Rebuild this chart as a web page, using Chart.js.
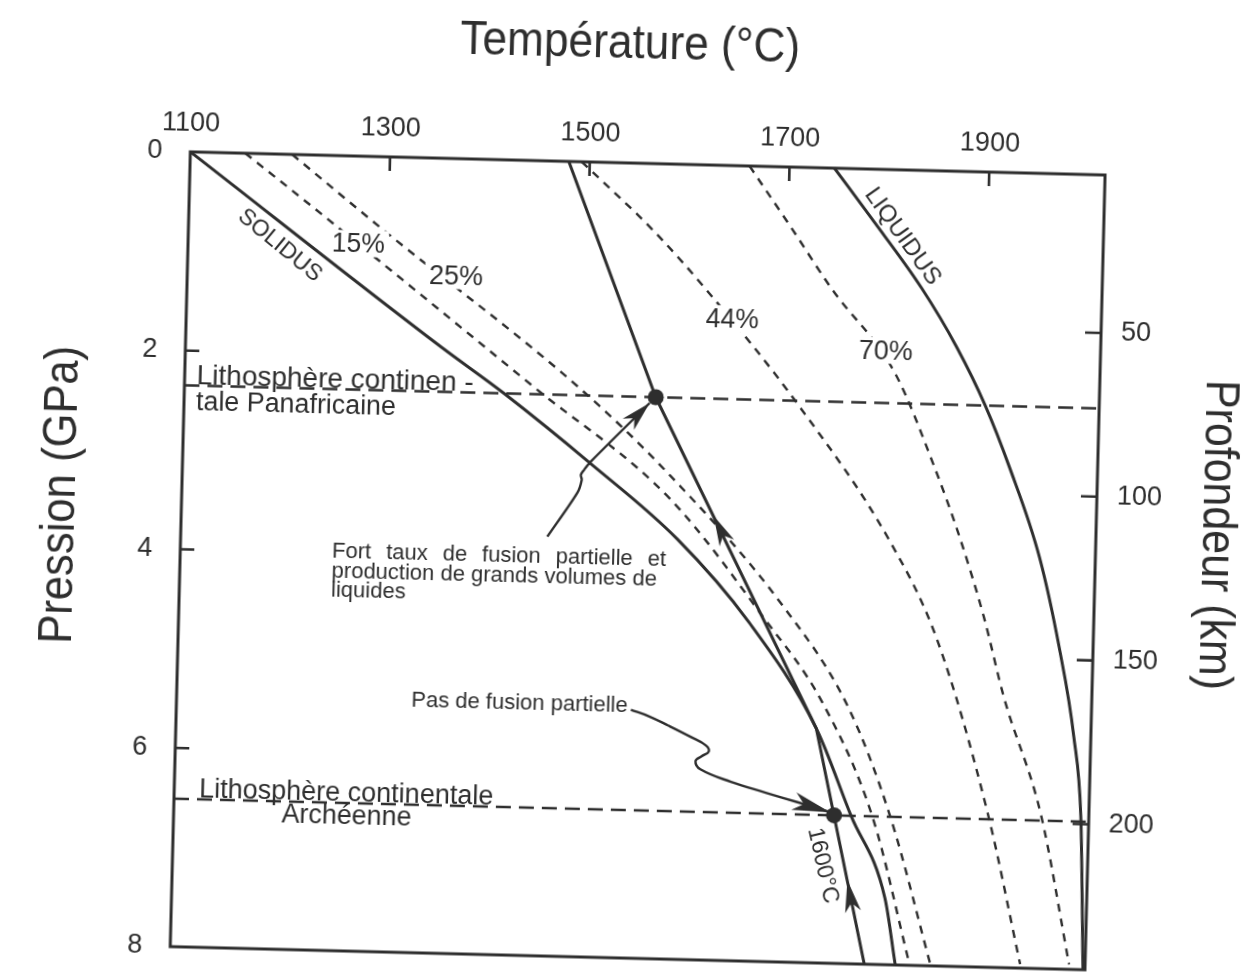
<!DOCTYPE html>
<html lang="fr">
<head>
<meta charset="utf-8">
<title>Fusion partielle du manteau</title>
<script src="https://cdn.jsdelivr.net/npm/chart.js@4.4.1/dist/chart.umd.min.js"></script>
<style>
  html, body { margin: 0; padding: 0; background: #fff; overflow: hidden; }
  #cadre { position: absolute; left: 0; top: 0; width: 1252px; height: 975px;
           transform: rotate(1.45deg); transform-origin: 626px 487.5px; }
</style>
</head>
<body>
<div id="cadre"><canvas id="diagramme" width="1252" height="975"></canvas></div>
<script>
// graduations
const ticksTemperature = [1100, 1300, 1500, 1700, 1900];
const ticksPression = [0, 2, 4, 6, 8];
const ticksProfondeur = [50, 100, 150, 200];

// courbes : température (°C) / pression (GPa)
const solidusT = [1100, 1356, 1420, 1508, 1597, 1671, 1741, 1778, 1814, 1826];
const solidusP = [0, 1.90, 2.35, 3.03, 3.77, 4.59, 5.64, 6.51, 7.33, 8.0];

const liquidusT = [1745, 1783, 1835, 1872, 1902, 1928, 1960, 1982, 1999, 2008, 2014];
const liquidusP = [0, 0.49, 1.18, 1.77, 2.35, 2.97, 3.86, 4.76, 5.66, 6.46, 8.0];

const fusion15T = [1155, 1226, 1450, 1589, 1684, 1746, 1800, 1840];
const fusion15P = [0, 0.54, 2.28, 3.37, 4.52, 5.37, 6.53, 7.98];

const fusion25T = [1202, 1293, 1497, 1585, 1704, 1773, 1818, 1861];
const fusion25P = [0, 0.72, 2.29, 3.10, 4.41, 5.43, 6.53, 7.98];

const fusion44T = [1492, 1567, 1622, 1714, 1810, 1859, 1915, 1951];
const fusion44P = [0, 0.69, 1.28, 2.38, 3.74, 4.70, 6.46, 7.96];

const fusion70T = [1660, 1704, 1745, 1811, 1853, 1880, 1906, 1928, 1968, 2000];
const fusion70P = [0, 0.62, 1.21, 2.05, 2.99, 3.69, 4.48, 5.28, 6.45, 7.95];

// adiabat 1600 °C
const adiabatT = [1479, 1572, 1741, 1795];
const adiabatP = [0, 2.35, 5.64, 8.0];

// base des lithosphères (GPa)
const lithoPanafricaine = 2.35;
const lithoArcheenne = 6.51;

// points remarquables sur l'adiabat
const pointsT = [1572, 1761];
const pointsP = [2.35, 6.51];

// flèches des commentaires
const flecheFortT = [1467, 1496, 1500, 1499, 1502, 1508, 1566];
const flecheFortP = [3.78, 3.33, 3.20, 3.15, 3.10, 3.02, 2.41];
const flechePasT = [1555, 1573, 1593, 1616, 1631, 1634, 1627, 1621, 1626, 1657, 1692, 1725, 1757];
const flechePasP = [5.50, 5.56, 5.65, 5.76, 5.84, 5.90, 5.95, 6.00, 6.08, 6.20, 6.30, 6.39, 6.48];

const ENCRE = '#2e2e2e';
const POLICE = "'Liberation Sans', Arial, Helvetica, sans-serif";
Chart.defaults.font.family = POLICE;
Chart.defaults.color = ENCRE;

function pts(ts, ps) { return ts.map((t, i) => ({ x: t, y: ps[i] })); }

function courbe(ts, ps, dash) {
  return {
    data: pts(ts, ps), showLine: true, pointRadius: 0,
    borderColor: ENCRE, borderWidth: dash ? 2.4 : 3,
    borderDash: dash || [], cubicInterpolationMode: 'monotone'
  };
}

function horizontale(p) {
  return {
    data: [{ x: 1100, y: p }, { x: 2016, y: p }], showLine: true, pointRadius: 0,
    borderColor: ENCRE, borderWidth: 2.4, borderDash: [15, 8]
  };
}

// textes posés dans le diagramme (coordonnées T, P)
const etiquettes = [
  { txt: 'SOLIDUS', t: 1192, p: 0.92, rot: 38, size: 23, centre: true },
  { txt: 'LIQUIDUS', t: 1815, p: 0.67, rot: 53, size: 24, centre: true },
  { txt: '1600°C', t: 1751, p: 7.02, rot: 76, size: 23, centre: true },
  { txt: '15%', t: 1244, p: 0.97, size: 27, max: 53, fond: true },
  { txt: '25%', t: 1342, p: 1.27, size: 27, max: 54, fond: true },
  { txt: '44%', t: 1620, p: 1.63, size: 27, max: 53, fond: true },
  { txt: '70%', t: 1774, p: 1.91, size: 27, max: 54, fond: true },
  { txt: 'Lithosphère continen -', t: 1112, p: 2.33, size: 28, max: 280 },
  { txt: 'tale Panafricaine', t: 1112, p: 2.60, size: 27, max: 200 },
  { txt: 'Lithosphère continentale', t: 1125, p: 6.49, size: 27, max: 296 },
  { txt: 'Archéenne', t: 1208, p: 6.72, size: 27, max: 130 },
  { txt: 'Fort taux de fusion partielle et', t: 1252, p: 4.05, size: 22, max: 334, mots: true },
  { txt: 'production de grands volumes de', t: 1252, p: 4.25, size: 22, max: 330 },
  { txt: 'liquides', t: 1252, p: 4.44, size: 22, max: 80 },
  { txt: 'Pas de fusion partielle', t: 1335, p: 5.52, size: 22, max: 220 }
];

// pointes de flèches : extrémité et point d'où vient le trait
const pointes = [
  { t: 1566, p: 2.41, dt: 1508, dp: 3.02, long: 30, demi: 8 },
  { t: 1633, p: 3.53, dt: 1650, dp: 3.86, long: 30, demi: 8 },
  { t: 1776, p: 7.16, dt: 1785, dp: 7.60, long: 32, demi: 8 },
  { t: 1757, p: 6.48, dt: 1725, dp: 6.39, long: 38, demi: 9 }
];

const habillage = {
  id: 'habillage',
  afterDatasetsDraw(chart) {
    const ctx = chart.ctx;
    const a = chart.chartArea;
    const sx = chart.scales.x, sy = chart.scales.y, sz = chart.scales.y2;

    // cadre et graduations intérieures
    ctx.save();
    ctx.strokeStyle = ENCRE;
    ctx.lineWidth = 3;
    ctx.strokeRect(a.left, a.top, a.right - a.left, a.bottom - a.top);
    ctx.lineWidth = 2.6;
    ctx.beginPath();
    sx.ticks.forEach(tk => {
      if (tk.value === sx.min) return;
      const x = sx.getPixelForValue(tk.value);
      ctx.moveTo(x, a.top); ctx.lineTo(x, a.top + 14);
    });
    sy.ticks.forEach(tk => {
      if (tk.value === sy.min || tk.value === sy.max) return;
      const y = sy.getPixelForValue(tk.value);
      ctx.moveTo(a.left, y); ctx.lineTo(a.left + 14, y);
    });
    sz.ticks.forEach(tk => {
      const y = sz.getPixelForValue(tk.value);
      ctx.moveTo(a.right, y); ctx.lineTo(a.right - 16, y);
    });
    ctx.stroke();

    // pointes de flèches
    ctx.fillStyle = ENCRE;
    pointes.forEach(f => {
      const x = sx.getPixelForValue(f.t), y = sy.getPixelForValue(f.p);
      const x0 = sx.getPixelForValue(f.dt), y0 = sy.getPixelForValue(f.dp);
      const ang = Math.atan2(y - y0, x - x0);
      ctx.save();
      ctx.translate(x, y);
      ctx.rotate(ang);
      ctx.beginPath();
      ctx.moveTo(0, 0);
      ctx.lineTo(-f.long, f.demi);
      ctx.lineTo(-f.long * 0.72, 0);
      ctx.lineTo(-f.long, -f.demi);
      ctx.closePath();
      ctx.fill();
      ctx.restore();
    });

    // textes
    etiquettes.forEach(e => {
      const x = sx.getPixelForValue(e.t), y = sy.getPixelForValue(e.p);
      ctx.save();
      ctx.translate(x, y);
      if (e.rot) ctx.rotate(e.rot * Math.PI / 180);
      ctx.font = e.size + 'px ' + POLICE;
      ctx.textAlign = e.centre ? 'center' : 'left';
      ctx.textBaseline = e.centre ? 'middle' : 'alphabetic';
      let w = ctx.measureText(e.txt).width;
      if (e.mots && e.max > w) {
        // ligne justifiée : on élargit les espaces
        const n = e.txt.split(' ').length - 1;
        ctx.wordSpacing = ((e.max - w) / n).toFixed(2) + 'px';
        w = e.max;
      }
      if (e.max && w > e.max) w = e.max;
      if (e.fond) {
        ctx.fillStyle = '#fff';
        ctx.fillRect(-4, -e.size * 0.82, w + 8, e.size * 0.98);
      }
      ctx.fillStyle = ENCRE;
      if (e.max && !e.mots) ctx.fillText(e.txt, 0, 0, e.max); else ctx.fillText(e.txt, 0, 0);
      ctx.restore();
    });
    ctx.restore();
  },
  afterDraw(chart) {
    // titres des axes
    const ctx = chart.ctx;
    ctx.save();
    ctx.fillStyle = ENCRE;
    ctx.font = '48px ' + POLICE;
    ctx.textBaseline = 'alphabetic';
    ctx.textAlign = 'center';
    ctx.fillText('Température (°C)', 619, 58, 340);

    ctx.save();
    ctx.translate(75, 509);
    ctx.rotate(-Math.PI / 2);
    ctx.fillText('Pression (GPa)', 0, 0, 298);
    ctx.restore();

    ctx.save();
    ctx.translate(1204, 520);
    ctx.rotate(Math.PI / 2);
    ctx.fillText('Profondeur (km)', 0, 0, 310);
    ctx.restore();
    ctx.restore();
  }
};

const police = (s) => ({ family: POLICE, size: s });
const brut = v => String(v);

new Chart(document.getElementById('diagramme'), {
  type: 'scatter',
  data: {
    datasets: [
      { data: pts(pointsT, pointsP), pointRadius: 8, pointBackgroundColor: ENCRE, pointBorderWidth: 0, showLine: false },
      courbe(solidusT, solidusP),
      courbe(liquidusT, liquidusP),
      courbe(fusion15T, fusion15P, [8, 7]),
      courbe(fusion25T, fusion25P, [8, 7]),
      courbe(fusion44T, fusion44P, [8, 7]),
      courbe(fusion70T, fusion70P, [8, 7]),
      Object.assign(courbe(adiabatT, adiabatP), { cubicInterpolationMode: 'default', tension: 0 }),
      horizontale(lithoPanafricaine),
      horizontale(lithoArcheenne),
      Object.assign(courbe(flecheFortT, flecheFortP), { borderWidth: 2.4, cubicInterpolationMode: 'default', tension: 0.3 }),
      Object.assign(courbe(flechePasT, flechePasP), { borderWidth: 2.4, cubicInterpolationMode: 'default', tension: 0.4 })
    ]
  },
  options: {
    responsive: false,
    animation: false,
    events: [],
    layout: { padding: 0 },
    plugins: { legend: { display: false }, tooltip: { enabled: false } },
    scales: {
      x: {
        type: 'linear', position: 'top', min: 1100, max: 2016,
        afterBuildTicks: s => { s.ticks = ticksTemperature.map(v => ({ value: v })); },
        afterFit: s => { s.height = 163; },
        grid: { display: false, drawTicks: false },
        border: { display: false },
        ticks: { font: police(27), color: ENCRE, padding: 12, callback: brut }
      },
      // axe bas sans graduation, réserve la marge sous le cadre
      xBas: {
        type: 'linear', position: 'bottom', min: 1100, max: 2016,
        afterFit: s => { s.height = 17; },
        grid: { display: false, drawTicks: false },
        border: { display: false },
        ticks: { display: false }
      },
      // l'écart des étiquettes passe par tickLength (grille masquée)
      y: {
        type: 'linear', position: 'left', reverse: true, min: 0, max: 8,
        afterBuildTicks: s => { s.ticks = ticksPression.map(v => ({ value: v })); },
        afterFit: s => { s.width = 182; },
        grid: { display: false, drawTicks: true, tickLength: 28 },
        border: { display: false },
        ticks: { font: police(27), color: ENCRE, padding: 0, callback: brut }
      },
      y2: {
        type: 'linear', position: 'right', reverse: true, min: 1.8, max: 244.4,
        afterBuildTicks: s => { s.ticks = ticksProfondeur.map(v => ({ value: v })); },
        afterFit: s => { s.width = 155; },
        grid: { display: false, drawTicks: true, tickLength: 20 },
        border: { display: false },
        ticks: { font: police(27), color: ENCRE, padding: 0, callback: brut }
      }
    }
  },
  plugins: [habillage]
});
</script>
</body>
</html>
